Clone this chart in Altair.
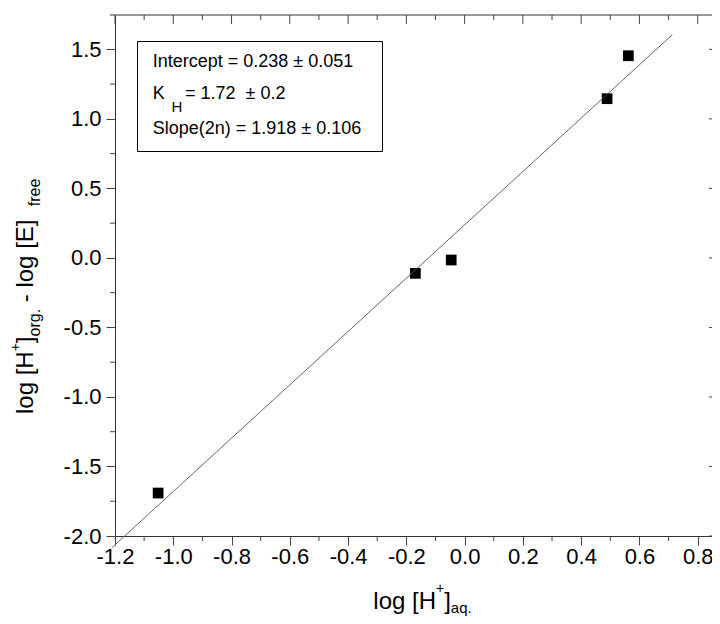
import altair as alt
import pandas as pd

# ---------------- data ----------------
x_vals = [-1.052, -0.169, -0.046, 0.489, 0.562]
y_vals = [-1.691, -0.111, -0.015, 1.145, 1.454]

fit_intercept = 0.238
fit_slope = 1.918
fit_x_range = [-1.21, 0.713]

x_major = [-1.2, -1.0, -0.8, -0.6, -0.4, -0.2, 0.0, 0.2, 0.4, 0.6, 0.8]
x_minor = [-1.1, -0.9, -0.7, -0.5, -0.3, -0.1, 0.1, 0.3, 0.5, 0.7]
y_major = [-2.0, -1.5, -1.0, -0.5, 0.0, 0.5, 1.0, 1.5]
y_minor = [-1.75, -1.25, -0.75, -0.25, 0.25, 0.75, 1.25]

box_line1 = "Intercept = 0.238 \u00b1 0.051"
box_line2_main = "K"
box_line2_sub = "H"
box_line2_rest = "= 1.72\u00a0\u00a0\u00b1 0.2"
box_line3 = "Slope(2n) = 1.918 \u00b1 0.106"

# ---------------- layout ----------------
FONT = "Liberation Sans"
W, H = 597, 521
X_DOMAIN = [-1.2, -1.2 + W / 291.35]
Y_DOMAIN = [-2.0, 1.747]
OX, OY = 115, 15  # absolute position of plot origin in page

ARIAL = {
    'l': 222, 'o': 556, 'g': 556, ' ': 278, '[': 278, 'H': 722, ']': 278,
    '+': 584, 'a': 556, 'q': 556, '.': 278, 'r': 333, '-': 333, 'E': 667,
    'f': 278, 'e': 556,
}


def tw(s, size):
    return sum(ARIAL.get(c, 556) for c in s) / 1000.0 * size


xscale = alt.Scale(domain=X_DOMAIN, nice=False, zero=False)
yscale = alt.Scale(domain=Y_DOMAIN, nice=False, zero=False)

lab = "replace(format(datum.value, '.1f'), '\u2212', '-')"
x_axis = alt.Axis(values=x_major, labelExpr=lab, orient="bottom",
                  tickSize=9, labelPadding=1.5, labelFontSize=22, labelFont=FONT,
                  labelColor="black", domainColor="#333", tickColor="#444", grid=False,
                  title=None, labelOverlap=False, labelFlush=False)
y_axis = alt.Axis(values=y_major, labelExpr=lab, orient="left",
                  tickSize=9, labelPadding=5, labelFontSize=22, labelFont=FONT,
                  labelColor="black", domainColor="#333", tickColor="#444", grid=False,
                  title=None, labelOverlap=False, labelFlush=False)


def X(field):
    return alt.X(field, scale=xscale, axis=x_axis)


def Y(field):
    return alt.Y(field, scale=yscale, axis=y_axis)


pts = pd.DataFrame({"x": x_vals, "y": y_vals})
points = alt.Chart(pts).mark_square(size=115, color="black", opacity=1).encode(
    x=X("x:Q"), y=Y("y:Q"))

fit = pd.DataFrame({"x": fit_x_range,
                    "y": [fit_intercept + fit_slope * v for v in fit_x_range]})
line = alt.Chart(fit).mark_line(color="#555", strokeWidth=0.9, clip=False).encode(
    x=X("x:Q"), y=Y("y:Q"))


def vticks(vals, y0, y1):
    return alt.Chart(pd.DataFrame({"v": vals})).mark_rule(color="#444", strokeWidth=1).encode(
        x=X("v:Q"), y=alt.value(y0), y2=alt.value(y1))


def hticks(vals, x0, x1):
    return alt.Chart(pd.DataFrame({"v": vals})).mark_rule(color="#444", strokeWidth=1).encode(
        y=Y("v:Q"), x=alt.value(x0), x2=alt.value(x1))


one = pd.DataFrame({"t": [""]})
top_line = alt.Chart(one).mark_rule(color="#333", strokeWidth=1).encode(
    x=alt.value(-5), x2=alt.value(W), y=alt.value(0))

ticks = [
    vticks(x_minor, H, H + 5),        # bottom minor (outward)
    vticks(x_major, 0, 9),            # top major (inward)
    vticks(x_minor, 0, 5),            # top minor (inward)
    hticks(y_minor, -5, 0),           # left minor (outward)
    hticks(y_major, W - 3, W),        # right edge stubs
]


def txt(s, ax, ay, size, angle=0):
    return alt.Chart(pd.DataFrame({"t": [s]})).mark_text(
        align="left", baseline="alphabetic", font=FONT, fontSize=size,
        color="black", angle=angle).encode(
        x=alt.value(ax - OX), y=alt.value(ay - OY), text="t:N")


box = alt.Chart(one).mark_rect(fill="white", stroke="black", strokeWidth=1).encode(
    x=alt.value(137.5 - OX), x2=alt.value(382.5 - OX),
    y=alt.value(41.5 - OY), y2=alt.value(151.5 - OY))

texts = [
    txt(box_line1, 152.7, 66.7, 18),
    txt(box_line2_main, 152.7, 98.5, 18),
    txt(box_line2_sub, 171.5, 112.0, 15),
    txt(box_line2_rest, 185.0, 98.5, 18),
    txt(box_line3, 152.7, 134.0, 18),
]

# x-axis title: log [H+]aq.
xt_pieces = [("log [H", 24, 0), ("+", 14, -16), ("]", 24, 0), ("aq.", 15, 4)]
cx, base = 373.3, 609.0
for s, size, shift in xt_pieces:
    texts.append(txt(s, cx, base + shift, size))
    cx += tw(s, size)

# y-axis title (rotated): log [H+]org. - log [E] free
yt_pieces = [("log [H", 24, 0), ("+", 14, -13), ("]", 24, 0), ("org.", 16, 7),
             (" - log [E]  ", 24, 0), ("free", 16, 7)]
cy, bx = 414.0, 32.5
for s, size, shift in yt_pieces:
    lead = tw(s[: len(s) - len(s.lstrip())], size)
    texts.append(txt(s.strip(), bx + shift, cy - lead, size, angle=270))
    cy -= tw(s, size)

chart = alt.layer(points, line, top_line, *ticks, box, *texts).properties(
    width=W, height=H,
    autosize=alt.AutoSizeParams(type="none"),
    padding={"left": OX - 8, "top": OY - 8, "right": 0, "bottom": 80},
).configure(background="white").configure_view(stroke=None)

chart.save("out.html", embed_options={"renderer": "svg", "actions": False})
